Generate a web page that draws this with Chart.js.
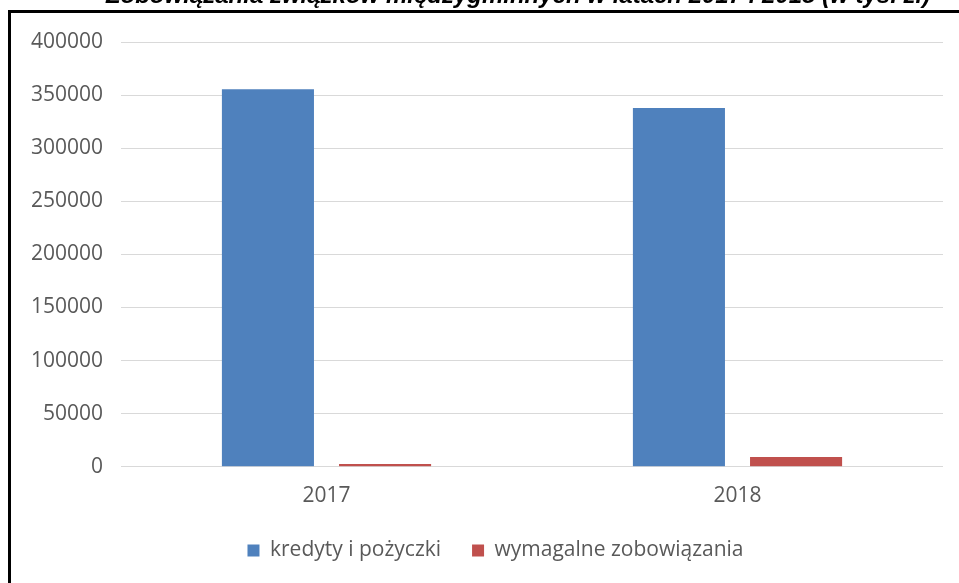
<!DOCTYPE html>
<html lang="pl">
<head>
<meta charset="utf-8">
<title>Zobowiązania związków międzygminnych</title>
<script src="https://cdn.jsdelivr.net/npm/chart.js@4/dist/chart.umd.min.js"></script>
<style>
  html, body { margin: 0; padding: 0; background: #fff; overflow: hidden; }
  #frame {
    position: absolute; left: 8px; top: 10px; width: 1000px; height: 600px;
    border-left: 3px solid #000; border-top: 3px solid #000;
  }
  #wrap { position: absolute; left: 0; top: 0; width: 959px; height: 583px; }
</style>
</head>
<body>
<div id="frame"></div>
<div id="wrap"><canvas id="chart"></canvas></div>
<script>
// ===== Data =====
const chartTitle = 'Zobowiązania związków międzygminnych w latach 2017 i 2018 (w tys. zł)';
const years = ['2017', '2018'];
const seriesNames = ['kredyty i pożyczki', 'wymagalne zobowiązania'];
const kredyty = [355400, 337900];
const wymagalne = [2600, 9200];
const yMax = 400000;
const yStep = 50000;

const blue = '#4f81bd';
const red = '#c0504d';

// title sits above the frame and is partly cut off
const titlePlugin = {
    id: 'cutTitle',
    afterDraw(chart) {
        const ctx = chart.ctx;
        ctx.save();
        ctx.font = 'italic bold 24px "Liberation Sans", Arial, sans-serif';
        ctx.fillStyle = '#000';
        ctx.textAlign = 'center';
        ctx.textBaseline = 'alphabetic';
        ctx.fillText(chartTitle, 518, 3);
        ctx.restore();
    }
};

// centre the legend under the plot area rather than the whole canvas
const legendShift = {
    id: 'legendShift',
    afterLayout(chart) {
        chart.legend.left += 14;
        chart.legend.right += 14;
    }
};

Chart.defaults.font.family = '"Open Sans", Lato, sans-serif';
Chart.defaults.font.size = 21;
Chart.defaults.color = '#595959';

const config = {
    type: 'bar',
    data: {
        labels: years,
        datasets: [{
            label: seriesNames[0],
            data: kredyty,
            backgroundColor: blue,
            borderWidth: 0
        }, {
            label: seriesNames[1],
            data: wymagalne,
            backgroundColor: red,
            borderWidth: 0
        }]
    },
    options: {
        responsive: true,
        maintainAspectRatio: false,
        animation: false,
        categoryPercentage: 0.57,
        barPercentage: 0.786,
        layout: {
            padding: { left: 20, right: 16, top: 42, bottom: 12 }
        },
        scales: {
            x: {
                grid: { display: false, drawTicks: false },
                border: { display: false },
                ticks: { padding: 17 },
                // drop the spare space under the year labels
                afterFit(scale) { scale.height -= 17; }
            },
            y: {
                min: 0,
                max: yMax,
                grid: { color: '#d9d9d9', lineWidth: 1, drawTicks: false },
                border: { display: false },
                ticks: {
                    stepSize: yStep,
                    padding: 18,
                    callback: (v) => String(v)
                },
                afterFit(scale) { scale.width = 101; }
            }
        },
        plugins: {
            title: { display: false },
            tooltip: { enabled: false },
            legend: {
                position: 'bottom',
                labels: {
                    boxWidth: 12,
                    boxHeight: 12,
                    padding: 31,
                    color: '#595959',
                    font: { size: 21 }
                }
            }
        }
    },
    plugins: [titlePlugin, legendShift]
};

new Chart(document.getElementById('chart'), config);
</script>
</body>
</html>
